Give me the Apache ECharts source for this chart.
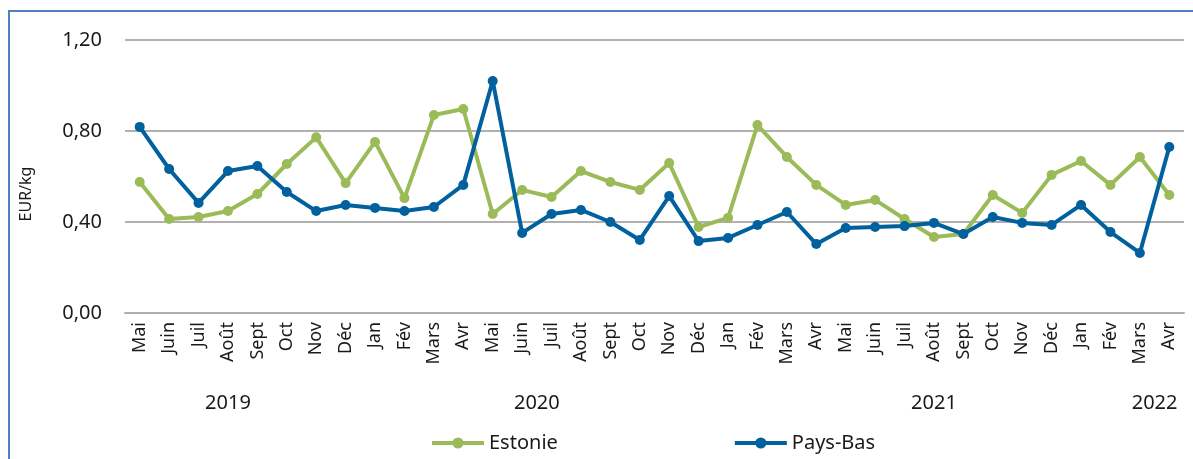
<!DOCTYPE html>
<html>
<head>
<meta charset="utf-8">
<script src="https://cdn.jsdelivr.net/npm/echarts@6/dist/echarts.min.js"></script>
<style>
  html, body { margin: 0; padding: 0; background: #fff; }
  #chart { width: 1193px; height: 459px; }
</style>
</head>
<body>
<div id="chart"></div>
<script>
  // mois (mai 2019 -> avril 2022)
  var months = [
    'Mai', 'Juin', 'Juil', 'Août', 'Sept', 'Oct', 'Nov', 'Déc',
    'Jan', 'Fév', 'Mars', 'Avr', 'Mai', 'Juin', 'Juil', 'Août', 'Sept', 'Oct', 'Nov', 'Déc',
    'Jan', 'Fév', 'Mars', 'Avr', 'Mai', 'Juin', 'Juil', 'Août', 'Sept', 'Oct', 'Nov', 'Déc',
    'Jan', 'Fév', 'Mars', 'Avr'
  ];
  var estonie = [
    0.576, 0.413, 0.422, 0.448, 0.523, 0.655, 0.772, 0.571,
    0.752, 0.505, 0.870, 0.897, 0.435, 0.541, 0.510, 0.624, 0.576, 0.541, 0.659, 0.378,
    0.418, 0.826, 0.686, 0.563, 0.475, 0.497, 0.413, 0.334, 0.347, 0.519, 0.440, 0.607,
    0.668, 0.563, 0.686, 0.519
  ];
  var paysBas = [
    0.818, 0.633, 0.484, 0.624, 0.646, 0.532, 0.448, 0.475,
    0.462, 0.448, 0.466, 0.563, 1.020, 0.352, 0.435, 0.453, 0.400, 0.321, 0.514, 0.316,
    0.330, 0.387, 0.444, 0.303, 0.374, 0.378, 0.382, 0.396, 0.347, 0.422, 0.396, 0.387,
    0.475, 0.356, 0.264, 0.730
  ];
  // libellés d'années et leur place (en index de mois)
  var years = ['2019', '2020', '2021', '2022'];
  var yearAt = [3, 13.5, 27, 34.5];

  var font = '"Noto Sans", sans-serif';
  var green = '#9bbb59';
  var blue = '#00619e';

  var myChart = echarts.init(document.getElementById('chart'));
  var option = {
    animation: false,
    textStyle: { fontFamily: font },
    graphic: [{
      type: 'rect',
      shape: { x: 9, y: 11, width: 1400, height: 600 },
      style: { fill: 'none', stroke: '#4f81bd', lineWidth: 2 },
      silent: true
    }, {
      // titre de l'axe vertical
      type: 'text',
      x: 26,
      y: 194,
      rotation: Math.PI / 2,
      style: {
        text: 'EUR/kg',
        fontSize: 16,
        fontFamily: font,
        fill: '#1a1a1a',
        align: 'center',
        verticalAlign: 'middle'
      },
      silent: true
    }],
    legend: {
      left: 425,
      top: 428,
      itemWidth: 52,
      itemHeight: 14,
      itemGap: 175,
      lineStyle: { width: 4 },
      textStyle: { fontSize: 20, color: '#1a1a1a', fontFamily: font },
      data: ['Estonie', 'Pays-Bas']
    },
    grid: {
      left: 125,
      right: 9,
      top: 40,
      bottom: 146,
      outerBoundsMode: 'none'
    },
    xAxis: [{
      type: 'category',
      data: months,
      boundaryGap: true,
      axisLine: { lineStyle: { color: '#b0b0b0', width: 2 } },
      axisTick: { show: false },
      axisLabel: {
        interval: 0,
        rotate: 90,
        margin: 9,
        fontSize: 18,
        color: '#1a1a1a',
        fontFamily: font
      }
    }, {
      type: 'value',
      position: 'bottom',
      min: -0.5,
      max: 35.5,
      axisLine: { show: false },
      axisTick: { show: false },
      splitLine: { show: false },
      axisLabel: {
        customValues: yearAt,
        margin: 80,
        fontSize: 20,
        color: '#1a1a1a',
        fontFamily: font,
        formatter: function (v) {
          var i = yearAt.indexOf(v);
          return i >= 0 ? years[i] : '';
        }
      }
    }],
    yAxis: {
      type: 'value',
      min: 0,
      max: 1.2,
      interval: 0.4,
      axisLine: { show: false },
      axisTick: { show: false },
      splitLine: { lineStyle: { color: '#b0b0b0', width: 2 } },
      axisLabel: {
        margin: 23,
        fontSize: 20,
        color: '#1a1a1a',
        fontFamily: font,
        formatter: function (v) { return v.toFixed(2).replace('.', ','); }
      }
    },
    series: [{
      name: 'Estonie',
      type: 'line',
      data: estonie,
      symbol: 'circle',
      symbolSize: 10,
      lineStyle: { width: 4, color: green },
      itemStyle: { color: green },
      z: 2
    }, {
      name: 'Pays-Bas',
      type: 'line',
      data: paysBas,
      symbol: 'circle',
      symbolSize: 10,
      lineStyle: { width: 4, color: blue },
      itemStyle: { color: blue },
      z: 3
    }]
  };
  myChart.setOption(option);
</script>
</body>
</html>
